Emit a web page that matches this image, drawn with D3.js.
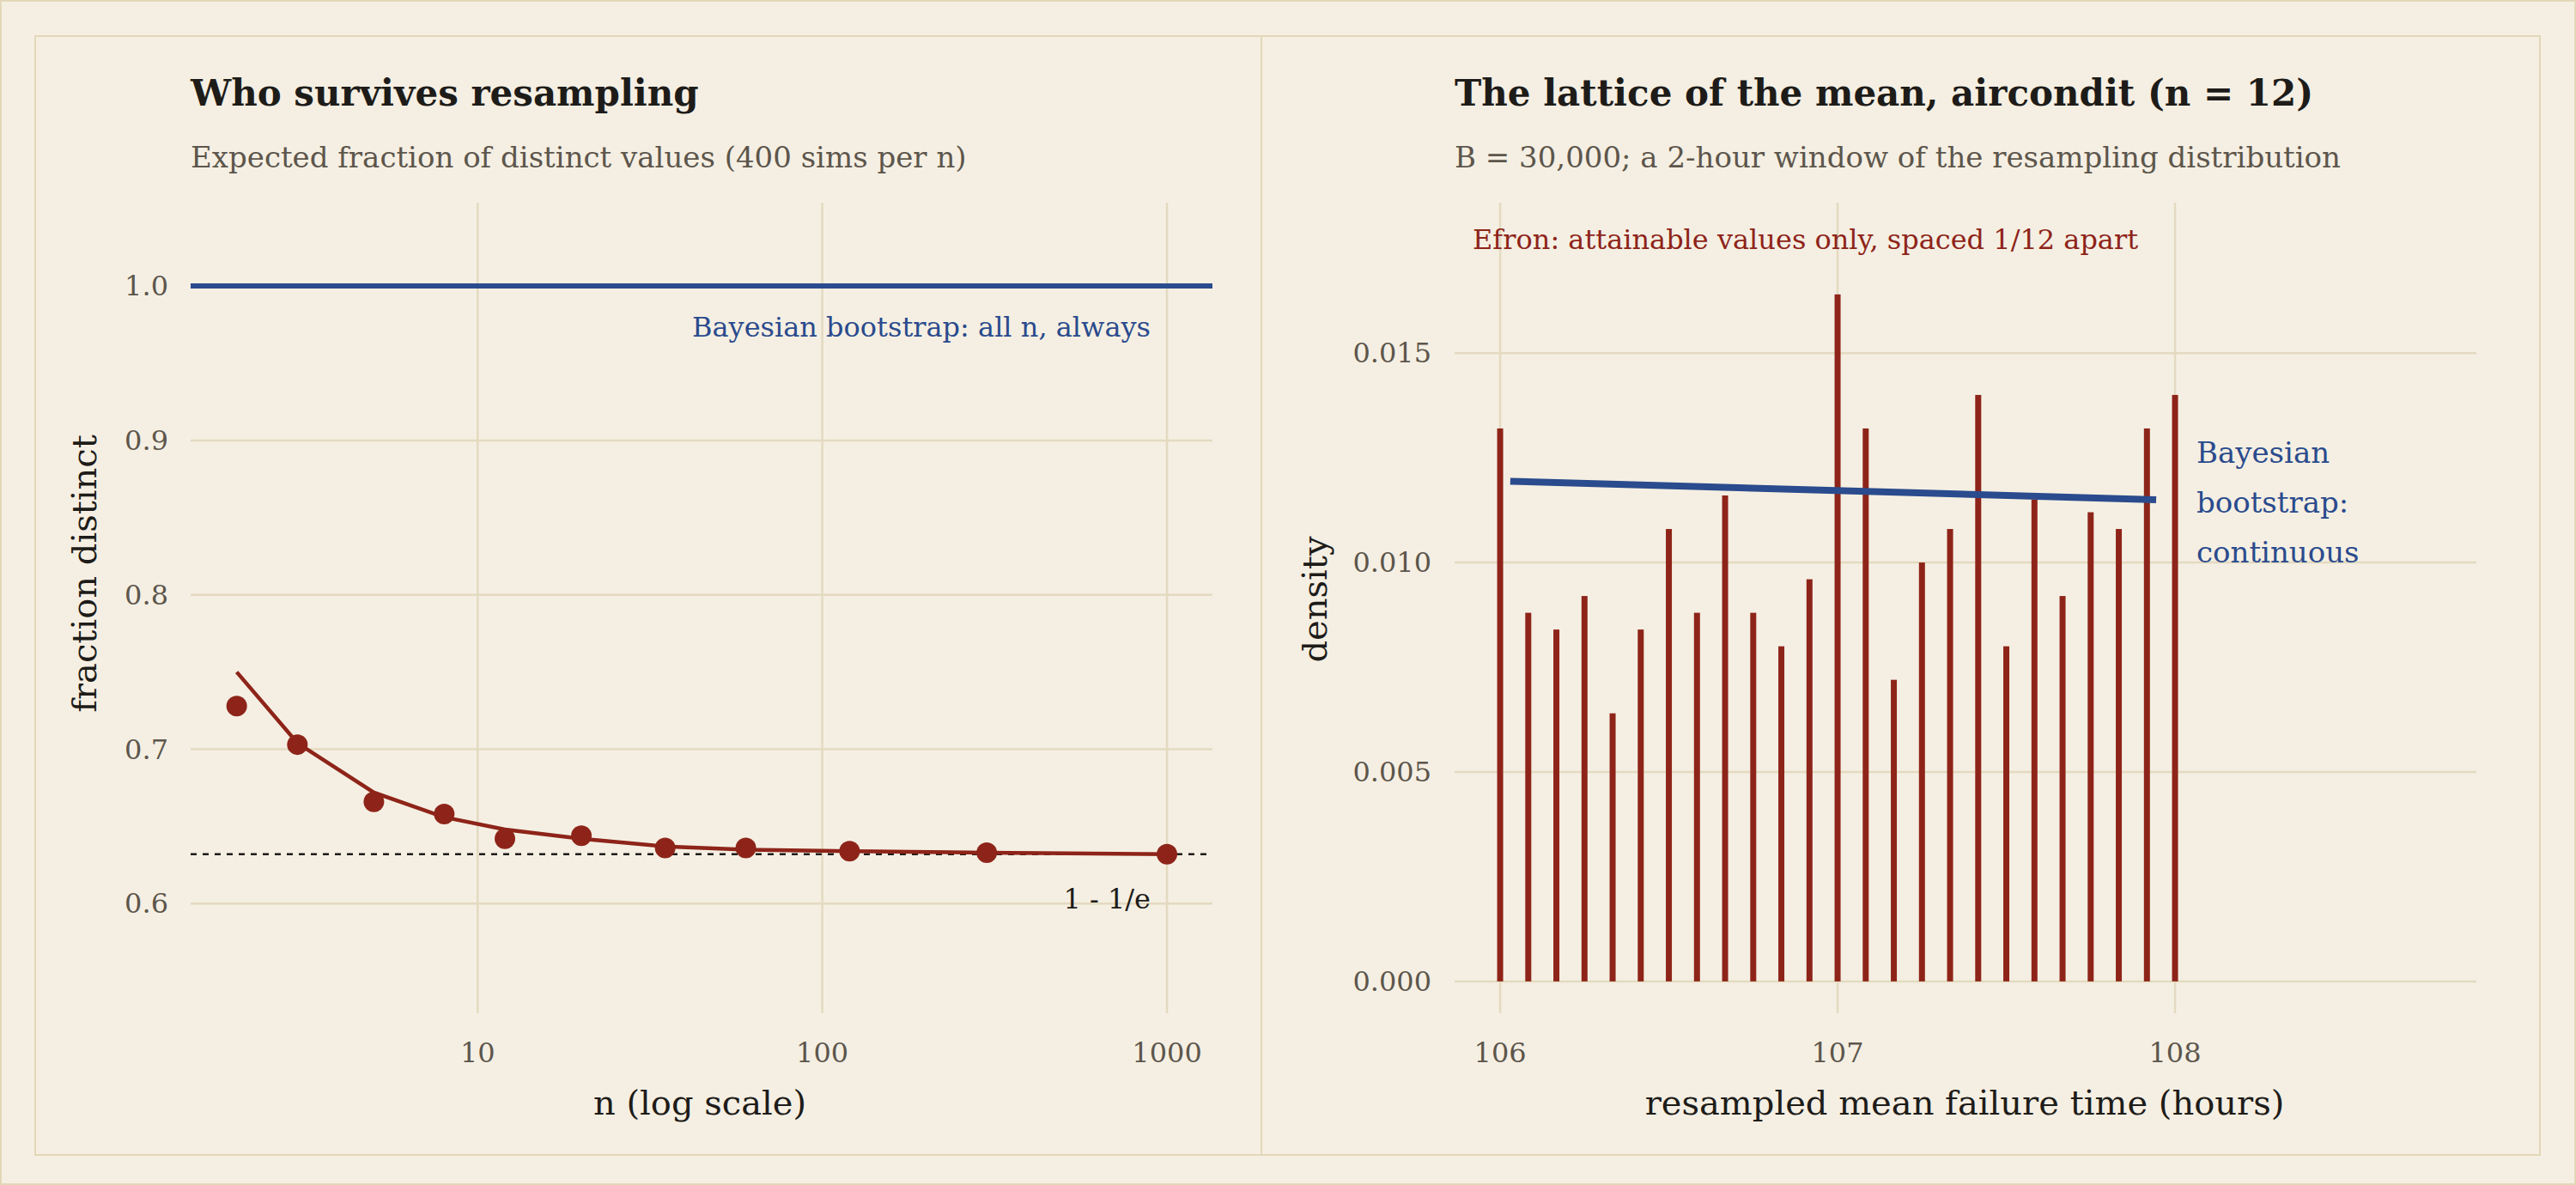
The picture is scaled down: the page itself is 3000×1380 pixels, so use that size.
<!DOCTYPE html>
<html><head><meta charset="utf-8">
<script src="https://cdn.jsdelivr.net/npm/d3@7"></script>
<style>body{margin:0;background:#F5EFE3}svg{display:block}</style>
</head><body>
<script>
const nVals = [2,3,5,8,12,20,35,60,120,300,1000];
const simFrac = [0.728,0.703,0.666,0.658,0.642,0.644,0.636,0.636,0.634,0.633,0.632];
const theoFrac = [0.750,0.704,0.672,0.656,0.648,0.642,0.637,0.635,0.634,0.633,0.632];
const limitVal = 0.632;
const xTicksL = [10,100,1000];
const yTicksL = [0.6,0.7,0.8,0.9,1.0];
const latticeK = d3.range(25);
const latticeDens = [0.0132,0.0088,0.0084,0.0092,0.0064,0.0084,0.0108,0.0088,0.0116,0.0088,0.0080,0.0096,0.0164,0.0132,0.0072,0.0100,0.0108,0.0140,0.0080,0.0115,0.0092,0.0112,0.0108,0.0132,0.0140];
const bayesX = [106.03,107.944];
const bayesY = [0.01194,0.0115];
const xTicksR = [106,107,108];
const yTicksR = [0,0.005,0.010,0.015];

const W=3000,H=1380;
const FONT="'DejaVu Serif', serif";
const BG="#F5EFE3", GRID="#E3DAC0", DARK="#1e1c19", GRAY="#5d564c", BLUE="#2A4B8D", RED="#8E2419";
const svg=d3.select("body").append("svg").attr("width",W).attr("height",H).style("font-family",FONT);
svg.append("rect").attr("x",1).attr("y",1).attr("width",W-2).attr("height",H-2).attr("fill",BG).attr("stroke","#E2D8B8").attr("stroke-width",2);
svg.append("rect").attr("x",41).attr("y",42).attr("width",1428).attr("height",1303).attr("fill","none").attr("stroke","#E2D8B8").attr("stroke-width",2);
svg.append("rect").attr("x",1469).attr("y",42).attr("width",1489).attr("height",1303).attr("fill","none").attr("stroke","#E2D8B8").attr("stroke-width",2);

function txt(x,y,s,size,color,anchor,weight){return svg.append("text").attr("x",x).attr("y",y).text(s).attr("font-size",size).attr("fill",color).attr("text-anchor",anchor||"start").attr("font-weight",weight||"normal");}

// LEFT
const xL=d3.scaleLog().domain([1.47,1355]).range([222,1412]);
const yL=d3.scaleLinear().domain([0.529,1.054]).range([1180,236]);
const gL=svg.append("g");
yTicksL.forEach(v=>{gL.append("line").attr("x1",222).attr("x2",1412).attr("y1",yL(v)).attr("y2",yL(v)).attr("stroke",GRID).attr("stroke-width",2.5);
 txt(196,yL(v)+11,v.toFixed(1),32,GRAY,"end");});
xTicksL.forEach(v=>{gL.append("line").attr("x1",xL(v)).attr("x2",xL(v)).attr("y1",236).attr("y2",1180).attr("stroke",GRID).attr("stroke-width",2.5);
 txt(xL(v),1237,String(v),32,GRAY,"middle");});
gL.append("line").attr("x1",222).attr("x2",1412).attr("y1",yL(limitVal)).attr("y2",yL(limitVal)).attr("stroke",DARK).attr("stroke-width",2.5).attr("stroke-dasharray","7,7");
gL.append("line").attr("x1",222).attr("x2",1412).attr("y1",yL(1)).attr("y2",yL(1)).attr("stroke",BLUE).attr("stroke-width",6);
gL.append("path").attr("d",d3.line().x((d,i)=>xL(nVals[i])).y(d=>yL(d))(theoFrac)).attr("fill","none").attr("stroke",RED).attr("stroke-width",4.5);
gL.selectAll("circle").data(simFrac).join("circle").attr("cx",(d,i)=>xL(nVals[i])).attr("cy",d=>yL(d)).attr("r",12).attr("fill",RED);
txt(1340,392,"Bayesian bootstrap: all n, always",32,BLUE,"end");
txt(1340,1058,"1 - 1/e",32,DARK,"end");
txt(222,123,"Who survives resampling",42,DARK,"start","bold");
txt(222,195,"Expected fraction of distinct values (400 sims per n)",34,GRAY);
txt(815,1298,"n (log scale)",40,DARK,"middle");
svg.append("text").attr("transform",`translate(112,${(236+1180)/2-40}) rotate(-90)`).attr("text-anchor","middle").attr("font-size",40).attr("fill",DARK).text("fraction distinct");

// RIGHT
const xR=d3.scaleLinear().domain([105.865,108.893]).range([1694,2884]);
const yR=d3.scaleLinear().domain([-0.00076,0.01859]).range([1180,236]);
const gR=svg.append("g");
yTicksR.forEach(v=>{gR.append("line").attr("x1",1694).attr("x2",2884).attr("y1",yR(v)).attr("y2",yR(v)).attr("stroke",GRID).attr("stroke-width",2.5);
 txt(1667,yR(v)+11,v.toFixed(3),32,GRAY,"end");});
xTicksR.forEach(v=>{gR.append("line").attr("x1",xR(v)).attr("x2",xR(v)).attr("y1",236).attr("y2",1180).attr("stroke",GRID).attr("stroke-width",2.5);
 txt(xR(v),1237,String(v),32,GRAY,"middle");});
gR.selectAll("rect.bar").data(latticeDens).join("rect").attr("class","bar")
 .attr("x",(d,i)=>xR(106+latticeK[i]/12)-3.5).attr("width",7)
 .attr("y",d=>yR(d)).attr("height",d=>yR(0)-yR(d)).attr("fill",RED);
gR.append("path").attr("d",d3.line().x((d,i)=>xR(bayesX[i])).y(d=>yR(d))(bayesY)).attr("stroke",BLUE).attr("stroke-width",8).attr("fill","none");
txt(1715,290,"Efron: attainable values only, spaced 1/12 apart",32,RED);
["Bayesian","bootstrap:","continuous"].forEach((s,i)=>txt(2558,539+i*58,s,34,BLUE));
txt(1694,123,"The lattice of the mean, aircondit (n = 12)",42,DARK,"start","bold");
txt(1694,195,"B = 30,000; a 2-hour window of the resampling distribution",34,GRAY);
txt(2288,1298,"resampled mean failure time (hours)",40,DARK,"middle");
svg.append("text").attr("transform",`translate(1545,${(236+1180)/2-10}) rotate(-90)`).attr("text-anchor","middle").attr("font-size",40).attr("fill",DARK).text("density");
</script>
</body></html>
